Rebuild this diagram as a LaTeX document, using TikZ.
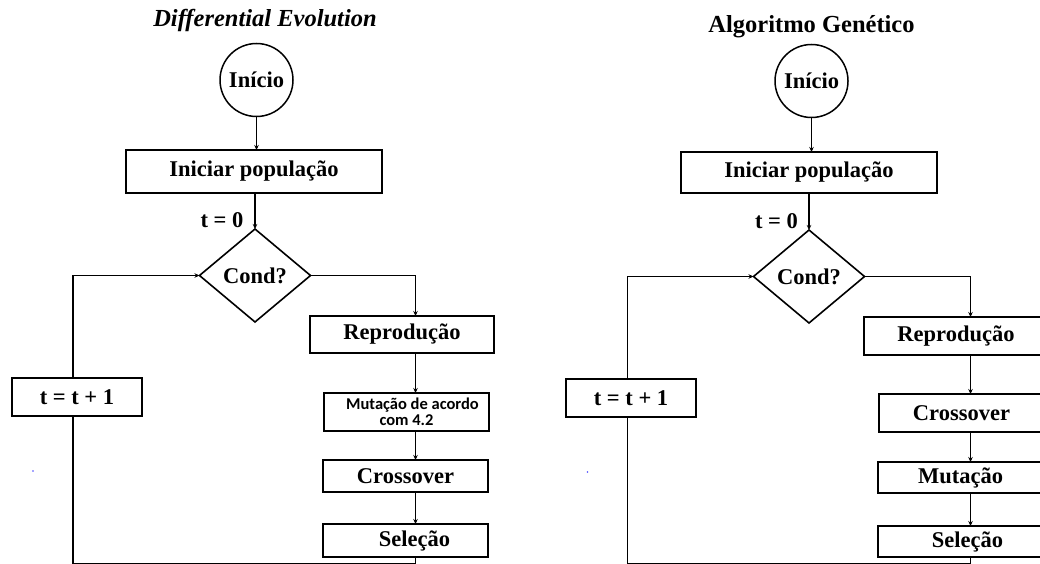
\documentclass[tikz,border=0pt]{standalone}
\usepackage{fontspec}
\setmainfont{Liberation Serif}
\newfontfamily\calib{Carlito}
\usetikzlibrary{shapes.geometric,arrows.meta}

\tikzset{
  every node/.style={inner sep=0pt, outer sep=0pt},
  wire/.style={line width=1.4pt},
  flow/.style={wire, -{Stealth[length=5pt,width=4.5pt]}},
  titletext/.style={font=\fontsize{24.5}{28}\selectfont\bfseries, anchor=base},
  startnode/.style={circle, draw, line width=1.5pt, minimum size=73pt,
    font=\fontsize{22.5}{26}\selectfont\bfseries},
  procbox/.style={rectangle, draw, line width=1.8pt, fill=white,
    font=\fontsize{22.5}{26}\selectfont\bfseries},
  smallbox/.style={procbox, font=\fontsize{16.5}{16.5}\selectfont\calib\bfseries, align=center},
  decision/.style={diamond, draw, line width=1.6pt, fill=white,
    minimum width=111pt, minimum height=93pt,
    font=\fontsize{22.5}{26}\selectfont\bfseries},
  steplabel/.style={font=\fontsize{22.5}{26}\selectfont\bfseries},
}

\begin{document}
\begin{tikzpicture}[x=1pt, y=-1pt]
\fill[white] (0,0) rectangle (1040,564);
\clip (0,0) rectangle (1040,564);

% ---------------- Differential Evolution ----------------
\node[titletext] (title1) at (265,27) {\itshape Differential Evolution};
\node[startnode] (ini1) at (256.5,80) {Início};
\node[procbox, minimum width=256pt, minimum height=43pt] (pop1) at (254,171.5) {Iniciar população};
\node[decision] (cond1) at (255,275.5) {Cond?};
\node[procbox, minimum width=184pt, minimum height=37pt] (rep1) at (402,334.5) {Reprodução};
\node[smallbox, minimum width=165pt, minimum height=38pt] (mut1) at (406.5,412) {\hspace*{12pt}Mutação de acordo\\com 4.2};
\node[procbox, minimum width=165pt, minimum height=32pt] (cro1) at (405.5,476) {Crossover};
\node[procbox, minimum width=165pt, minimum height=33pt] (sel1) at (405.5,540.5) {\hspace*{18pt}Seleção};
\node[procbox, minimum width=130pt, minimum height=38pt] (inc1) at (77,397) {t = t + 1};
\node[steplabel] (tz1) at (222,220) {t = 0};

\coordinate (col1) at (415.5,0);
\coordinate (lx1) at (73,0);
\coordinate (bot1) at (0,563.3);

\draw[flow] (ini1) -- (pop1.north -| ini1);
\draw[flow] (pop1.south -| cond1) -- (cond1.north);
\draw[flow] (cond1.east) -| (rep1.north -| col1);
\draw[flow] (rep1.south -| col1) -- (mut1.north -| col1);
\draw[flow] (mut1.south -| col1) -- (cro1.north -| col1);
\draw[flow] (cro1.south -| col1) -- (sel1.north -| col1);
\draw[wire] (sel1.south -| col1) -- (col1 |- bot1) -- (lx1 |- bot1) -- (inc1.south -| lx1);
\draw[flow] (inc1.north -| lx1) |- (cond1.west);

\fill[blue!70] (33,471) circle (0.9);

% ---------------- Algoritmo Genetico ----------------
\node[titletext] (title2) at (811.5,33) {Algoritmo Genético};
\node[startnode] (ini2) at (811.5,81) {Início};
\node[procbox, minimum width=256pt, minimum height=41pt] (pop2) at (809,172.5) {Iniciar população};
\node[decision] (cond2) at (809,276.5) {Cond?};
\node[procbox, minimum width=184pt, minimum height=38pt] (rep2) at (956,336) {Reprodução};
\node[procbox, minimum width=165pt, minimum height=38pt] (cro2) at (961.5,413) {Crossover};
\node[procbox, minimum width=165pt, minimum height=31pt] (mut2) at (960.5,477.5) {Mutação};
\node[procbox, minimum width=165pt, minimum height=31pt] (sel2) at (960.5,541.5) {\hspace*{14pt}Seleção};
\node[procbox, minimum width=130pt, minimum height=38pt] (inc2) at (631,398) {t = t + 1};
\node[steplabel] (tz2) at (776.5,221) {t = 0};

\coordinate (col2) at (970.5,0);
\coordinate (lx2) at (627.5,0);
\coordinate (bot2) at (0,563.8);

\draw[flow] (ini2) -- (pop2.north -| ini2);
\draw[flow] (pop2.south -| cond2) -- (cond2.north);
\draw[flow] (cond2.east) -| (rep2.north -| col2);
\draw[flow] (rep2.south -| col2) -- (cro2.north -| col2);
\draw[flow] (cro2.south -| col2) -- (mut2.north -| col2);
\draw[flow] (mut2.south -| col2) -- (sel2.north -| col2);
\draw[wire] (sel2.south -| col2) -- (col2 |- bot2) -- (lx2 |- bot2) -- (inc2.south -| lx2);
\draw[flow] (inc2.north -| lx2) |- (cond2.west);

\fill[blue!70] (587.5,472) circle (0.9);
\end{tikzpicture}
\end{document}
